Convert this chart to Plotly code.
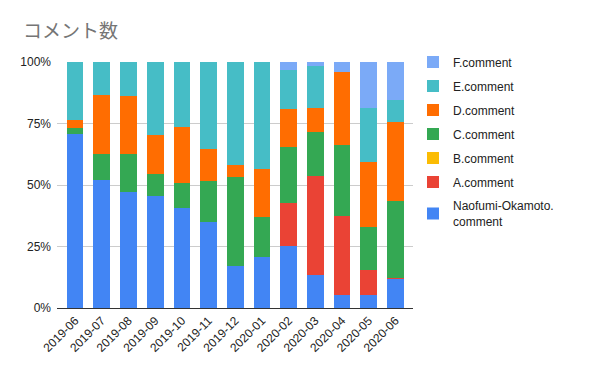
import plotly.graph_objects as go

months = ["2019-06", "2019-07", "2019-08", "2019-09", "2019-10", "2019-11", "2019-12",
          "2020-01", "2020-02", "2020-03", "2020-04", "2020-05", "2020-06"]

naofumi = [70.7, 52.0, 47.2, 45.7, 40.7, 35.0, 17.2, 20.7, 25.3, 13.4, 5.3, 5.3, 12.0]
a_comment = [0, 0, 0, 0, 0, 0, 0, 0, 17.3, 40.2, 32.1, 10.2, 0.4]
b_comment = [0, 0, 0, 0, 0, 0, 0, 0, 0, 0, 0, 0, 0]
c_comment = [2.4, 10.8, 15.4, 8.8, 10.0, 16.5, 35.9, 16.2, 22.7, 17.9, 28.7, 17.3, 31.0]
d_comment = [3.3, 23.7, 23.5, 15.8, 22.7, 13.1, 5.0, 19.6, 15.4, 10.0, 29.7, 26.5, 32.4]
e_comment = [23.6, 13.5, 13.9, 29.7, 26.6, 35.4, 41.9, 43.5, 15.9, 16.7, 0, 21.9, 8.9]
f_comment = [0, 0, 0, 0, 0, 0, 0, 0, 3.4, 1.8, 4.2, 18.8, 15.3]

y_ticks = [0, 25, 50, 75, 100]
y_tick_labels = ["0%", "25%", "50%", "75%", "100%"]

series = [
    ("Naofumi-Okamoto.<br>comment", naofumi, "#4285F4"),
    ("A.comment", a_comment, "#EA4335"),
    ("B.comment", b_comment, "#FBBC04"),
    ("C.comment", c_comment, "#34A853"),
    ("D.comment", d_comment, "#FF6D01"),
    ("E.comment", e_comment, "#46BDC6"),
    ("F.comment", f_comment, "#7BAAF7"),
]

fig = go.Figure()
for i, (name, vals, color) in enumerate(series):
    fig.add_trace(go.Bar(
        x=months, y=vals, name=name, marker_color=color,
        marker_line_width=0, legendgroup=str(i), legendrank=1000 - i,
    ))

fig.update_layout(
    width=600, height=371,
    barmode="stack", barnorm="percent", bargap=0.375,
    plot_bgcolor="white", paper_bgcolor="white",
    margin=dict(l=49, r=195, t=54, b=71, autoexpand=False),
    font=dict(family="Liberation Sans, Arial, sans-serif", size=12, color="#222222"),
    title=dict(
        text="コメント数",
        font=dict(family="Noto Sans CJK JP", size=19, color="#757575"),
        x=15 / 600, xanchor="left", xref="container",
        y=1 - 23 / 371, yanchor="middle", yref="container",
    ),
    legend=dict(
        x=1.0, xref="paper", xanchor="left", y=1.059, yanchor="top",
        traceorder="grouped", tracegroupgap=5,
        font=dict(size=12, color="#222222"),
        itemwidth=30, maxheight=320,
    ),
    xaxis=dict(
        type="category", tickangle=-45, range=[-0.68, 12.66],
        showgrid=False, showline=True, linecolor="#333333", linewidth=1,
        tickfont=dict(size=12, color="#222222"), ticks="",
    ),
    yaxis=dict(
        range=[0, 100], tickmode="array", tickvals=y_ticks, ticktext=y_tick_labels,
        showgrid=True, gridcolor="#CCCCCC", gridwidth=1, zeroline=False,
        tickfont=dict(size=12, color="#222222"), ticks="", ticklabelstandoff=5,
    ),
)

fig.write_html("out.html")
